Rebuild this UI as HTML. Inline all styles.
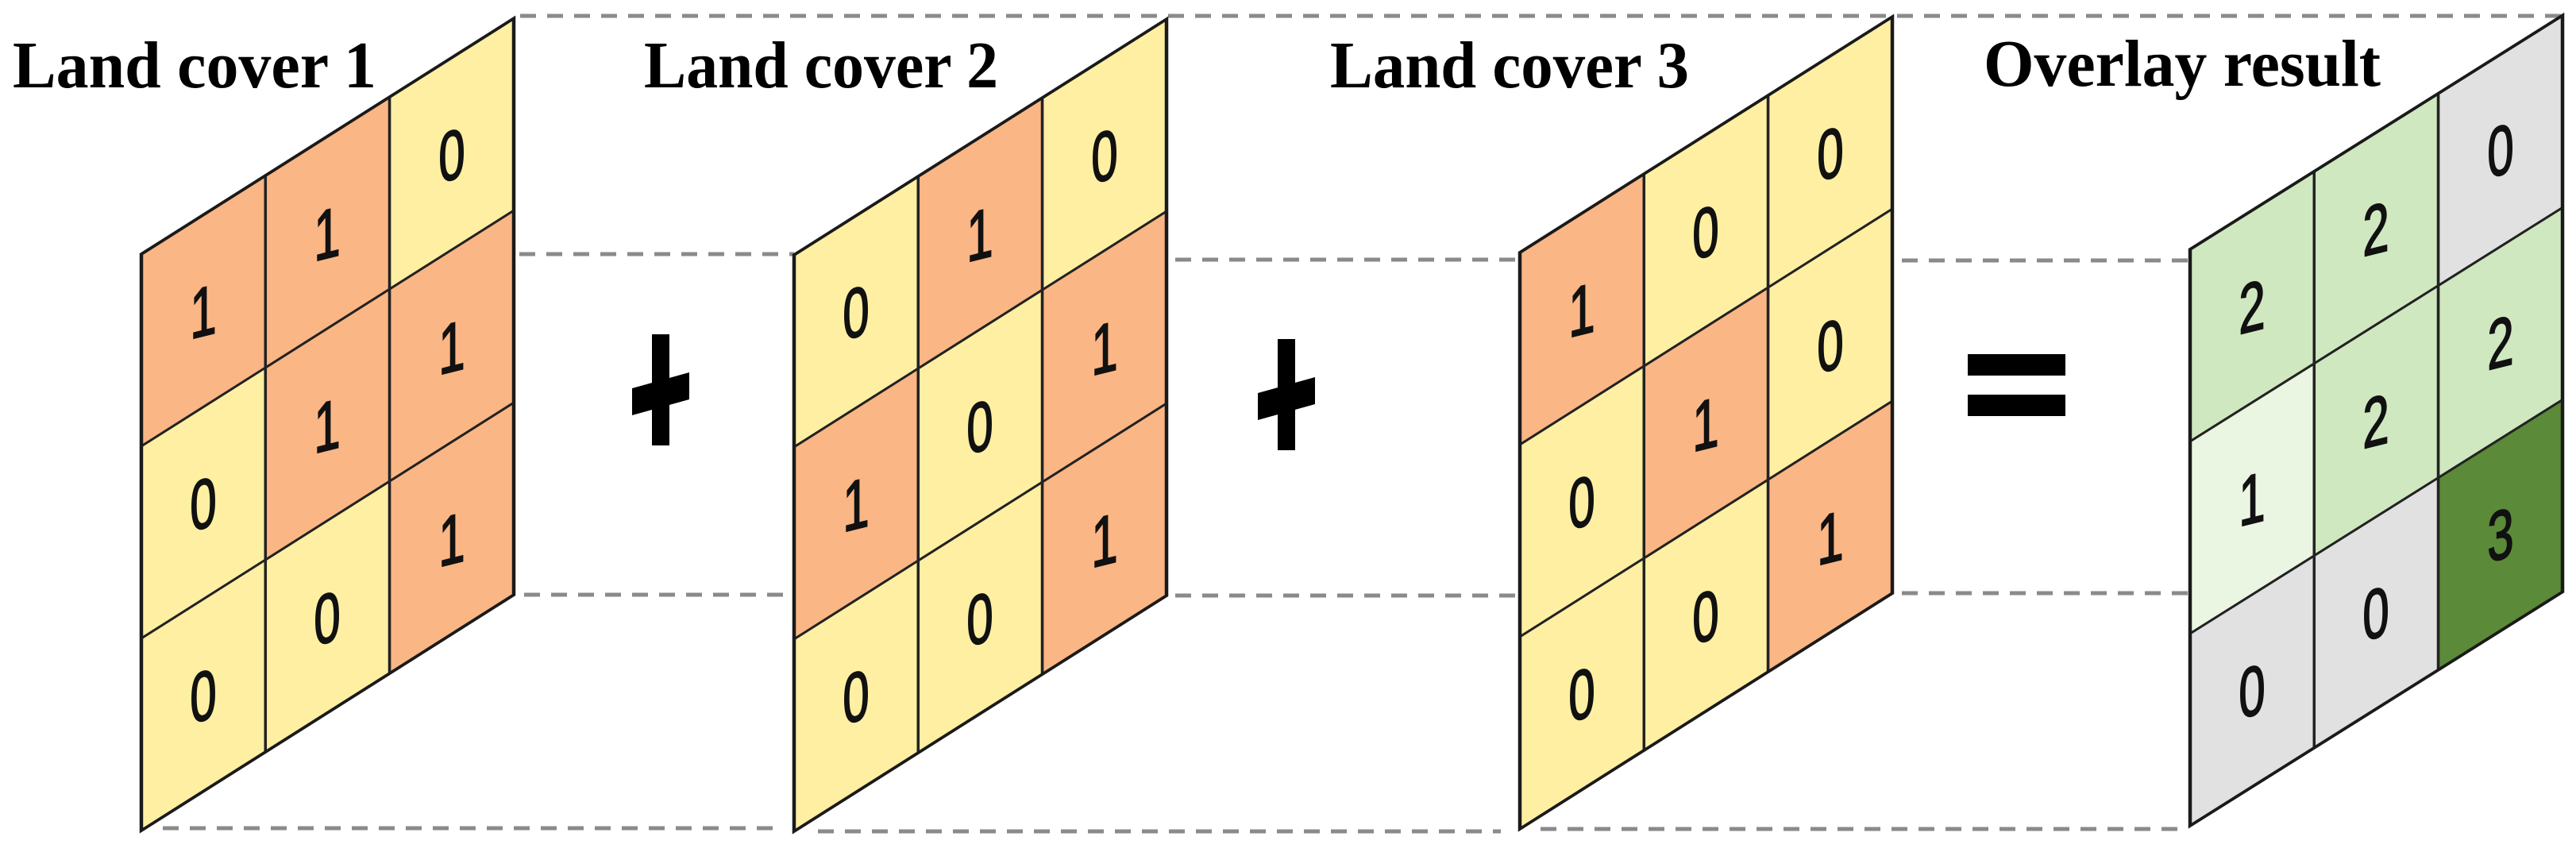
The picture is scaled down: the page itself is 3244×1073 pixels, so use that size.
<!DOCTYPE html>
<html><head><meta charset="utf-8"><style>
html,body{margin:0;padding:0;background:#fff;}
svg{display:block;}
.t{font-family:"Liberation Serif",serif;font-weight:bold;font-size:84px;fill:#000;}
.d{font-family:"Liberation Sans",sans-serif;font-size:88px;fill:#111;stroke:#111;stroke-width:2;}
.dash{stroke:#8a8a8a;stroke-width:5;stroke-dasharray:20 14;fill:none;}
.cell{stroke:#222;stroke-width:3.5;}
.out{fill:none;stroke:#1a1a1a;stroke-width:4.5;}
</style></head><body>
<svg width="3244" height="1073" viewBox="0 0 3244 1073" xmlns="http://www.w3.org/2000/svg">
<line class="dash" x1="655" y1="20" x2="3226" y2="20"/>
<line class="dash" x1="212" y1="320" x2="1000" y2="320"/>
<line class="dash" x1="1480" y1="327" x2="1914" y2="327"/>
<line class="dash" x1="2395" y1="328" x2="2758" y2="328"/>
<line class="dash" x1="660" y1="749" x2="1000" y2="749"/>
<line class="dash" x1="1480" y1="750" x2="1914" y2="750"/>
<line class="dash" x1="2395" y1="747" x2="2758" y2="747"/>
<line class="dash" x1="205" y1="1043" x2="975" y2="1043"/>
<line class="dash" x1="1030" y1="1047" x2="1890" y2="1047"/>
<line class="dash" x1="1940" y1="1044" x2="2745" y2="1044"/>

<text class="t" x="16" y="110" textLength="458" lengthAdjust="spacingAndGlyphs">Land cover 1</text>
<text class="t" x="811" y="110" textLength="446" lengthAdjust="spacingAndGlyphs">Land cover 2</text>
<text class="t" x="1675" y="110" textLength="452" lengthAdjust="spacingAndGlyphs">Land cover 3</text>
<text class="t" x="2498" y="108" textLength="500" lengthAdjust="spacingAndGlyphs">Overlay result</text>

<g transform="translate(178,320)">
 <g transform="matrix(1,-0.633,0,1,0,0)">
  <rect class="cell" x="0" y="0" width="156.3" height="242" fill="#FBB685"/>
  <rect class="cell" x="156.3" y="0" width="156.3" height="242" fill="#FBB685"/>
  <rect class="cell" x="312.6" y="0" width="156.4" height="242" fill="#FFEFA3"/>
  <rect class="cell" x="0" y="242" width="156.3" height="242" fill="#FFEFA3"/>
  <rect class="cell" x="156.3" y="242" width="156.3" height="242" fill="#FBB685"/>
  <rect class="cell" x="312.6" y="242" width="156.4" height="242" fill="#FBB685"/>
  <rect class="cell" x="0" y="484" width="156.3" height="242" fill="#FFEFA3"/>
  <rect class="cell" x="156.3" y="484" width="156.3" height="242" fill="#FFEFA3"/>
  <rect class="cell" x="312.6" y="484" width="156.4" height="242" fill="#FBB685"/>
  <rect class="out" x="0" y="0" width="469" height="726"/>
 </g>
 <g class="d" text-anchor="middle">
  <text transform="translate(78,71) skewY(-14) scale(0.68,1)" dy="32">1</text>
  <text transform="translate(234,-27) skewY(-14) scale(0.68,1)" dy="32">1</text>
  <text transform="translate(391,-126) skewY(-14) scale(0.68,1)" dy="32">0</text>
  <text transform="translate(78,313) skewY(-14) scale(0.68,1)" dy="32">0</text>
  <text transform="translate(234,215) skewY(-14) scale(0.68,1)" dy="32">1</text>
  <text transform="translate(391,116) skewY(-14) scale(0.68,1)" dy="32">1</text>
  <text transform="translate(78,555) skewY(-14) scale(0.68,1)" dy="32">0</text>
  <text transform="translate(234,457) skewY(-14) scale(0.68,1)" dy="32">0</text>
  <text transform="translate(391,358) skewY(-14) scale(0.68,1)" dy="32">1</text>
 </g>
</g>

<g transform="translate(1000,321)">
 <g transform="matrix(1,-0.633,0,1,0,0)">
  <rect class="cell" x="0" y="0" width="156.3" height="242" fill="#FFEFA3"/>
  <rect class="cell" x="156.3" y="0" width="156.3" height="242" fill="#FBB685"/>
  <rect class="cell" x="312.6" y="0" width="156.4" height="242" fill="#FFEFA3"/>
  <rect class="cell" x="0" y="242" width="156.3" height="242" fill="#FBB685"/>
  <rect class="cell" x="156.3" y="242" width="156.3" height="242" fill="#FFEFA3"/>
  <rect class="cell" x="312.6" y="242" width="156.4" height="242" fill="#FBB685"/>
  <rect class="cell" x="0" y="484" width="156.3" height="242" fill="#FFEFA3"/>
  <rect class="cell" x="156.3" y="484" width="156.3" height="242" fill="#FFEFA3"/>
  <rect class="cell" x="312.6" y="484" width="156.4" height="242" fill="#FBB685"/>
  <rect class="out" x="0" y="0" width="469" height="726"/>
 </g>
 <g class="d" text-anchor="middle">
  <text transform="translate(78,71) skewY(-14) scale(0.68,1)" dy="32">0</text>
  <text transform="translate(234,-27) skewY(-14) scale(0.68,1)" dy="32">1</text>
  <text transform="translate(391,-126) skewY(-14) scale(0.68,1)" dy="32">0</text>
  <text transform="translate(78,313) skewY(-14) scale(0.68,1)" dy="32">1</text>
  <text transform="translate(234,215) skewY(-14) scale(0.68,1)" dy="32">0</text>
  <text transform="translate(391,116) skewY(-14) scale(0.68,1)" dy="32">1</text>
  <text transform="translate(78,555) skewY(-14) scale(0.68,1)" dy="32">0</text>
  <text transform="translate(234,457) skewY(-14) scale(0.68,1)" dy="32">0</text>
  <text transform="translate(391,358) skewY(-14) scale(0.68,1)" dy="32">1</text>
 </g>
</g>

<g transform="translate(1914,318)">
 <g transform="matrix(1,-0.633,0,1,0,0)">
  <rect class="cell" x="0" y="0" width="156.3" height="242" fill="#FBB685"/>
  <rect class="cell" x="156.3" y="0" width="156.3" height="242" fill="#FFEFA3"/>
  <rect class="cell" x="312.6" y="0" width="156.4" height="242" fill="#FFEFA3"/>
  <rect class="cell" x="0" y="242" width="156.3" height="242" fill="#FFEFA3"/>
  <rect class="cell" x="156.3" y="242" width="156.3" height="242" fill="#FBB685"/>
  <rect class="cell" x="312.6" y="242" width="156.4" height="242" fill="#FFEFA3"/>
  <rect class="cell" x="0" y="484" width="156.3" height="242" fill="#FFEFA3"/>
  <rect class="cell" x="156.3" y="484" width="156.3" height="242" fill="#FFEFA3"/>
  <rect class="cell" x="312.6" y="484" width="156.4" height="242" fill="#FBB685"/>
  <rect class="out" x="0" y="0" width="469" height="726"/>
 </g>
 <g class="d" text-anchor="middle">
  <text transform="translate(78,71) skewY(-14) scale(0.68,1)" dy="32">1</text>
  <text transform="translate(234,-27) skewY(-14) scale(0.68,1)" dy="32">0</text>
  <text transform="translate(391,-126) skewY(-14) scale(0.68,1)" dy="32">0</text>
  <text transform="translate(78,313) skewY(-14) scale(0.68,1)" dy="32">0</text>
  <text transform="translate(234,215) skewY(-14) scale(0.68,1)" dy="32">1</text>
  <text transform="translate(391,116) skewY(-14) scale(0.68,1)" dy="32">0</text>
  <text transform="translate(78,555) skewY(-14) scale(0.68,1)" dy="32">0</text>
  <text transform="translate(234,457) skewY(-14) scale(0.68,1)" dy="32">0</text>
  <text transform="translate(391,358) skewY(-14) scale(0.68,1)" dy="32">1</text>
 </g>
</g>

<g transform="translate(2758,314)">
 <g transform="matrix(1,-0.628,0,1,0,0)">
  <rect class="cell" x="0" y="0" width="156.3" height="242" fill="#CFE8C0"/>
  <rect class="cell" x="156.3" y="0" width="156.3" height="242" fill="#CFE8C0"/>
  <rect class="cell" x="312.6" y="0" width="156.4" height="242" fill="#E1E1E1"/>
  <rect class="cell" x="0" y="242" width="156.3" height="242" fill="#EBF6E2"/>
  <rect class="cell" x="156.3" y="242" width="156.3" height="242" fill="#CFE8C0"/>
  <rect class="cell" x="312.6" y="242" width="156.4" height="242" fill="#CFE8C0"/>
  <rect class="cell" x="0" y="484" width="156.3" height="242" fill="#E1E1E1"/>
  <rect class="cell" x="156.3" y="484" width="156.3" height="242" fill="#E1E1E1"/>
  <rect class="cell" x="312.6" y="484" width="156.4" height="242" fill="#5B8A39"/>
  <rect class="out" x="0" y="0" width="469" height="726"/>
 </g>
 <g class="d" text-anchor="middle">
  <text transform="translate(78,71) skewY(-14) scale(0.68,1)" dy="32">2</text>
  <text transform="translate(234,-27) skewY(-14) scale(0.68,1)" dy="32">2</text>
  <text transform="translate(391,-126) skewY(-14) scale(0.68,1)" dy="32">0</text>
  <text transform="translate(78,313) skewY(-14) scale(0.68,1)" dy="32">1</text>
  <text transform="translate(234,215) skewY(-14) scale(0.68,1)" dy="32">2</text>
  <text transform="translate(391,116) skewY(-14) scale(0.68,1)" dy="32">2</text>
  <text transform="translate(78,555) skewY(-14) scale(0.68,1)" dy="32">0</text>
  <text transform="translate(234,457) skewY(-14) scale(0.68,1)" dy="32">0</text>
  <text transform="translate(391,358) skewY(-14) scale(0.68,1)" dy="32">3</text>
 </g>
</g>

<g transform="translate(832,491)" fill="#000">
 <rect x="-11" y="-70" width="22" height="140"/>
 <polygon points="-36,-2 36,-22 36,12 -36,32"/>
</g>
<g transform="translate(1620,497)" fill="#000">
 <rect x="-11" y="-70" width="22" height="140"/>
 <polygon points="-36,-2 36,-22 36,12 -36,32"/>
</g>
<rect x="2478" y="446" width="123" height="27" fill="#000"/>
<rect x="2478" y="497" width="123" height="27" fill="#000"/>
</svg>
</body></html>
